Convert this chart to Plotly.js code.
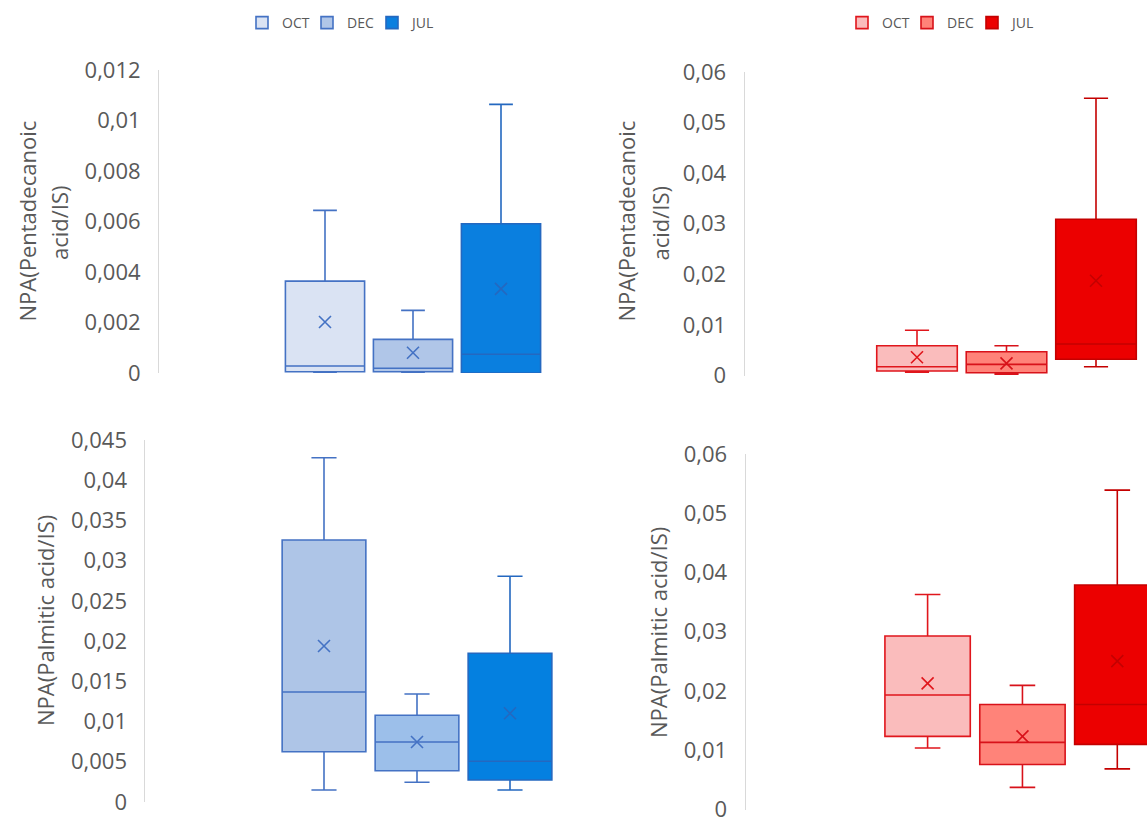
<!DOCTYPE html>
<html><head><meta charset="utf-8">
<script src="https://cdn.plot.ly/plotly-3.0.1.min.js"></script>
<style>html,body{margin:0;padding:0;background:#fff}</style>
</head><body><div id="chart" style="width:1147px;height:825px"></div>
<script>
// ---- data ----
const seasons = ['OCT', 'DEC', 'JUL'];

// Pentadecanoic acid / IS  (top-left, blue)
const pentaBlueLow    = [0.00000, 0.00000, 0.00000];
const pentaBlueQ1     = [0.00005, 0.00005, 0.00000];
const pentaBlueMedian = [0.00028, 0.00019, 0.00074];
const pentaBlueQ3     = [0.00364, 0.00133, 0.00591];
const pentaBlueHigh   = [0.00644, 0.00248, 0.01064];
const pentaBlueMean   = [0.00202, 0.00080, 0.00333];

// Pentadecanoic acid / IS  (top-right, red)
const pentaRedLow    = [0.00063, 0.00024, 0.00174];
const pentaRedQ1     = [0.00089, 0.00055, 0.00320];
const pentaRedMedian = [0.00174, 0.00220, 0.00623];
const pentaRedQ3     = [0.00589, 0.00470, 0.03090];
const pentaRedHigh   = [0.00894, 0.00589, 0.05480];
const pentaRedMean   = [0.00360, 0.00240, 0.01874];

// Palmitic acid / IS  (bottom-left, blue)
const palmBlueLow    = [0.00149, 0.00245, 0.00149];
const palmBlueQ1     = [0.00625, 0.00389, 0.00273];
const palmBlueMedian = [0.01367, 0.00746, 0.00506];
const palmBlueQ3     = [0.03257, 0.01078, 0.01849];
const palmBlueHigh   = [0.04280, 0.01343, 0.02806];
const palmBlueMean   = [0.01939, 0.00746, 0.01103];

// Palmitic acid / IS  (bottom-right, red)
const palmRedLow    = [0.01037, 0.00373, 0.00685];
const palmRedQ1     = [0.01234, 0.00759, 0.01099];
const palmRedMedian = [0.01933, 0.01133, 0.01771];
const palmRedQ3     = [0.02929, 0.01771, 0.03790];
const palmRedHigh   = [0.03629, 0.02095, 0.05391];
const palmRedMean   = [0.02128, 0.01234, 0.02504];

// ---- styles ----
const topBlueFill = ['#DAE3F3', '#B0C6E8', '#0A7FDF'];
const botBlueFill = ['#AEC5E7', '#9CBFEA', '#0480E0'];
const blueLine    = ['#4472C4', '#4472C4', '#2468C0'];
const redFill     = ['#FABCBC', '#FF8379', '#EC0000'];
const redLine     = ['#E0161C', '#D8121A', '#C40000'];

const W = 1147, H = 825;
const FONT = 'Open Sans, Noto Sans, sans-serif';
const GREY = '#595959';

const traces = [];
function panel(ax, low, q1, med, q3, high, mean, fills, lines, legendId) {
  const xa = 'x' + (ax === 1 ? '' : ax), ya = 'y' + (ax === 1 ? '' : ax);
  seasons.forEach((s, i) => {
    traces.push({
      type: 'box', name: s, x: [s],
      lowerfence: [low[i]], q1: [q1[i]], median: [med[i]], q3: [q3[i]], upperfence: [high[i]],
      xaxis: xa, yaxis: ya, width: 0.9, whiskerwidth: 0.3,
      fillcolor: fills[i], line: {color: lines[i], width: 1.6},
      showlegend: !!legendId, legend: legendId || 'legend', hoverinfo: 'skip'
    });
  });
  seasons.forEach((s, i) => {
    traces.push({
      type: 'scatter', mode: 'markers', x: [s], y: [mean[i]], xaxis: xa, yaxis: ya,
      marker: {symbol: 'x-thin', size: 12, color: lines[i], line: {color: lines[i], width: 1.6}},
      showlegend: false, hoverinfo: 'skip'
    });
  });
}
panel(1, pentaBlueLow, pentaBlueQ1, pentaBlueMedian, pentaBlueQ3, pentaBlueHigh, pentaBlueMean, topBlueFill, blueLine, 'legend');
panel(2, pentaRedLow, pentaRedQ1, pentaRedMedian, pentaRedQ3, pentaRedHigh, pentaRedMean, redFill, redLine, 'legend2');
panel(3, palmBlueLow, palmBlueQ1, palmBlueMedian, palmBlueQ3, palmBlueHigh, palmBlueMean, botBlueFill, blueLine, null);
panel(4, palmRedLow, palmRedQ1, palmRedMedian, palmRedQ3, palmRedHigh, palmRedMean, redFill, redLine, null);

// pixel geometry helpers
const fx = p => p / W, fy = p => 1 - p / H;
function xaxis(x0, c0, step, x1) {
  return {domain: [fx(x0), fx(x1)], range: [(x0 - c0) / step, (x1 - c0) / step],
    type: 'category', categoryorder: 'array', categoryarray: seasons,
    showticklabels: false, showline: false, showgrid: false, zeroline: false, ticks: '', fixedrange: true};
}
function yaxis(yTop, yBot, max, dtick, anchor) {
  return {domain: [fy(yBot), fy(yTop)], range: [0, max], dtick: dtick, tick0: 0, anchor: anchor,
    showline: true, linecolor: '#D9D9D9', linewidth: 1, showgrid: false, zeroline: false,
    ticks: '', ticklabelstandoff: 13, ticklabeloverflow: 'allow',
    tickfont: {family: FONT, size: 22, color: GREY}, fixedrange: true};
}
const legendBase = {orientation: 'h', xanchor: 'left', yanchor: 'middle', y: fy(22),
  font: {family: FONT, size: 14, color: GREY}, itemwidth: 30, bgcolor: 'rgba(0,0,0,0)',
  entrywidth: 20, entrywidthmode: 'pixels', itemclick: false, itemdoubleclick: false};

const tfont = {family: FONT, size: 22, color: GREY};
function vtitle(text, x, y) {
  return {text: text, xref: 'paper', yref: 'paper', x: fx(x), y: fy(y), xanchor: 'center', yanchor: 'middle',
    textangle: -90, showarrow: false, font: tfont};
}

const layout = {
  width: W, height: H, margin: {l: 0, r: 0, t: 0, b: 0, autoexpand: false},
  paper_bgcolor: '#fff', plot_bgcolor: 'rgba(0,0,0,0)',
  separators: ',.', boxmode: 'overlay', showlegend: true,
  xaxis:  xaxis(159, 325, 88, 575),
  yaxis:  yaxis(70, 373, 0.012, 0.002, 'x'),
  xaxis2: xaxis(744.5, 917, 89.5, 1147),
  yaxis2: yaxis(72, 375.5, 0.06, 0.01, 'x2'),
  xaxis3: xaxis(145.4, 324, 93, 575),
  yaxis3: yaxis(440, 802, 0.045, 0.005, 'x3'),
  xaxis4: xaxis(745.6, 927.6, 94.85, 1147),
  yaxis4: yaxis(454, 809.5, 0.06, 0.01, 'x4'),
  legend:  Object.assign({}, legendBase, {x: fx(242), y: fy(23)}),
  legend2: Object.assign({}, legendBase, {x: fx(842), y: fy(23)}),
  annotations: [
    vtitle('NPA(Pentadecanoic', 26, 221.5),
    vtitle('acid/IS)', 59, 223),
    vtitle('NPA(Pentadecanoic', 625, 221.5),
    vtitle('acid/IS)', 659.5, 223),
    vtitle('NPA(Palmitic acid/IS)', 45, 621),
    vtitle('NPA(Palmitic acid/IS)', 658, 633)
  ]
};
Plotly.newPlot('chart', traces, layout, {displayModeBar: false, staticPlot: true});
</script></body></html>
